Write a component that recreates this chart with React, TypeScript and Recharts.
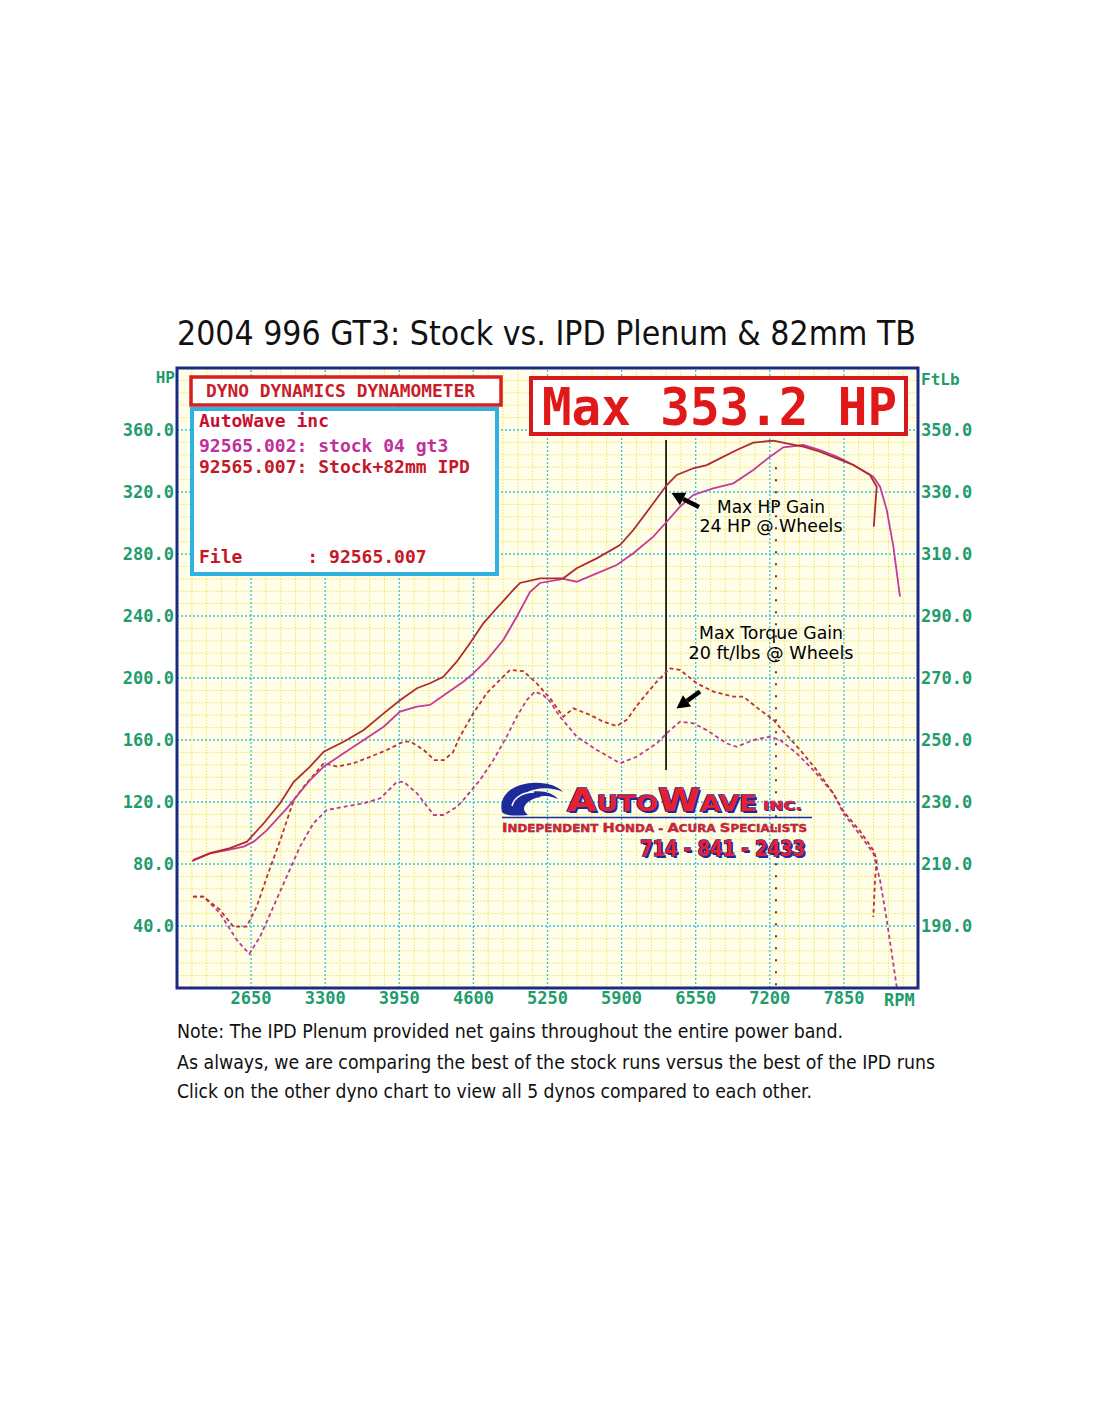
import React from 'react';
import { LineChart, Line, XAxis, YAxis, ReferenceLine, CartesianGrid } from 'recharts';

// ---------- axis ticks ----------
const rpmTicks = [2650, 3300, 3950, 4600, 5250, 5900, 6550, 7200, 7850];
const hpTicks = [40, 80, 120, 160, 200, 240, 280, 320, 360];
const tqTicks = [190, 210, 230, 250, 270, 290, 310, 330, 350];

// ---------- IPD (Stock+82mm) horsepower ----------
const ipdHpRpm = [2140, 2290, 2465, 2614, 2761, 2904, 3024, 3167, 3287, 3462, 3638, 3813, 3959, 4105, 4219, 4336, 4454, 4570, 4687, 4804, 4950, 5009, 5184, 5389, 5506, 5682, 5886, 6003, 6178, 6296, 6384, 6529, 6647, 6763, 6910, 7055, 7231, 7348, 7494, 7640, 7787, 7933, 8079, 8138, 8129, 8112];
const ipdHp = [82.6, 87.0, 90.3, 94.4, 106.3, 119.2, 133.0, 142.8, 152.5, 158.9, 166.5, 177.2, 185.8, 193.4, 196.6, 200.8, 210.5, 222.4, 235.3, 245.0, 256.8, 261.3, 264.3, 264.3, 270.8, 277.2, 285.8, 295.5, 312.7, 324.5, 331.0, 335.3, 337.4, 341.7, 347.1, 351.8, 353.2, 351.4, 349.2, 346.0, 341.7, 337.4, 331.0, 323.4, 314.8, 297.6];

// ---------- stock horsepower ----------
const stockHpRpm = [2132, 2292, 2439, 2585, 2673, 2789, 2965, 3167, 3287, 3462, 3638, 3813, 3956, 4105, 4219, 4366, 4511, 4599, 4717, 4862, 4980, 5096, 5184, 5389, 5506, 5682, 5857, 6003, 6178, 6296, 6412, 6529, 6704, 6880, 7055, 7202, 7318, 7494, 7640, 7787, 7933, 8108, 8167, 8226, 8284, 8342];
const stockHp = [81.9, 86.9, 89.0, 91.2, 94.4, 101.9, 116.1, 134.2, 142.8, 151.4, 160.0, 168.6, 178.3, 181.5, 182.6, 190.1, 197.6, 203.0, 211.6, 224.5, 239.5, 255.5, 261.3, 263.9, 262.1, 267.5, 272.9, 280.5, 291.2, 300.8, 310.5, 318.1, 322.4, 325.6, 334.2, 342.8, 348.8, 350.3, 347.1, 342.8, 337.4, 329.9, 323.4, 308.4, 284.7, 252.5];

// ---------- IPD torque (ft-lb) ----------
const ipdTqRpm = [2140, 2231, 2377, 2494, 2611, 2699, 2789, 2906, 3024, 3111, 3287, 3404, 3550, 3696, 3842, 3989, 4047, 4164, 4260, 4340, 4420, 4482, 4599, 4717, 4833, 4921, 5038, 5155, 5272, 5389, 5476, 5623, 5740, 5857, 5945, 6061, 6208, 6325, 6412, 6559, 6705, 6880, 6968, 7114, 7231, 7348, 7465, 7611, 7757, 7845, 7991, 8108, 8138, 8123, 8108];
const ipdTq = [199.5, 199.5, 195.2, 189.8, 189.8, 196.2, 205.9, 217.7, 230.6, 234.9, 242.5, 241.4, 242.5, 244.6, 246.8, 249.5, 249.5, 246.8, 243.5, 243.5, 246.0, 251.1, 258.6, 265.1, 269.4, 272.6, 272.2, 268.3, 263.5, 257.5, 260.2, 258.1, 255.9, 254.5, 256.5, 262.4, 268.8, 273.1, 272.6, 268.3, 265.6, 264.0, 264.0, 259.7, 256.5, 251.6, 246.8, 240.3, 232.8, 227.1, 220.6, 214.5, 211.3, 204.8, 192.9];

// ---------- stock torque (ft-lb) ----------
const stockTqRpm = [2140, 2231, 2377, 2524, 2634, 2728, 2845, 2962, 3079, 3196, 3313, 3461, 3638, 3784, 3930, 3989, 4105, 4252, 4339, 4456, 4511, 4658, 4775, 4892, 4980, 5068, 5140, 5213, 5272, 5360, 5506, 5682, 5886, 6032, 6208, 6325, 6412, 6529, 6646, 6822, 6910, 7055, 7202, 7290, 7436, 7582, 7757, 7845, 7991, 8108, 8167, 8226, 8270, 8313];
const stockTq = [199.5, 199.5, 194.1, 185.5, 181.0, 186.5, 196.2, 205.9, 215.6, 223.1, 227.4, 228.4, 229.6, 231.2, 236.5, 236.5, 232.8, 225.8, 225.8, 228.5, 230.6, 237.1, 243.5, 251.1, 257.5, 262.9, 265.6, 264.5, 262.4, 257.5, 251.1, 246.8, 242.5, 244.6, 248.9, 253.2, 255.9, 255.4, 253.2, 248.9, 247.8, 250.0, 251.1, 250.0, 245.7, 240.3, 232.8, 226.4, 219.4, 213.5, 204.8, 191.9, 181.2, 170.4];

const toPoints = (rpms: number[], vals: number[]) => rpms.map((r, i) => ({ rpm: r, value: vals[i] }));
const ipdHpData = toPoints(ipdHpRpm, ipdHp);
const stockHpData = toPoints(stockHpRpm, stockHp);
const ipdTqData = toPoints(ipdTqRpm, ipdTq);
const stockTqData = toPoints(stockTqRpm, stockTq);

// minor grid lines (5 subdivisions per major division)
const minorRpm: number[] = [];
for (let v = 2130; v < 8500; v += 130) if (!rpmTicks.includes(v)) minorRpm.push(v);
const minorHp: number[] = [];
for (let v = 8; v < 400; v += 8) if (v % 40 !== 0) minorHp.push(v);

const GREEN = '#1f9c6c';
const MONO = '"DejaVu Sans Mono", "Liberation Mono", monospace';
const SANS = '"DejaVu Sans", Verdana, sans-serif';

const tickStyle = { fill: GREEN, fontFamily: MONO, fontWeight: 700, fontSize: 17 };

function Arrow({ tail, tip }: { tail: [number, number]; tip: [number, number] }) {
  const dx = tip[0] - tail[0];
  const dy = tip[1] - tail[1];
  const len = Math.sqrt(dx * dx + dy * dy);
  const ux = dx / len, uy = dy / len;
  const hl = 13, hw = 7;
  const bx = tip[0] - ux * hl, by = tip[1] - uy * hl;
  const nx = -uy, ny = ux;
  const pts = `${tip[0]},${tip[1]} ${bx + nx * hw},${by + ny * hw} ${bx - nx * hw},${by - ny * hw}`;
  return (
    <g>
      <line x1={tail[0]} y1={tail[1]} x2={bx} y2={by} stroke="#000" strokeWidth={4.5} />
      <polygon points={pts} fill="#000" />
    </g>
  );
}

function Overlay() {
  return (
    <svg width={1100} height={1422} style={{ position: 'absolute', left: 0, top: 0, pointerEvents: 'none' }}>
      {/* plot border */}
      <rect x={177} y={368} width={741} height={620} fill="none" stroke="#1b2a86" strokeWidth={3} />

      {/* title */}
      <text x={177} y={345} fontFamily={SANS} fontSize={33} fill="#111" textLength={739} lengthAdjust="spacingAndGlyphs">
        2004 996 GT3: Stock vs. IPD Plenum &amp; 82mm TB
      </text>

      {/* axis titles */}
      <text x={175} y={383} textAnchor="end" fontFamily={MONO} fontWeight={700} fontSize={16} fill={GREEN}>HP</text>
      <text x={921} y={385} fontFamily={MONO} fontWeight={700} fontSize={16} fill={GREEN}>FtLb</text>
      <text x={884} y={1006} fontFamily={MONO} fontWeight={700} fontSize={17} fill={GREEN}>RPM</text>

      {/* dyno header box */}
      <rect x={191} y={377} width={310} height={28} fill="#fff" stroke="#d42020" strokeWidth={3.5} />
      <text x={206} y={397} fontFamily={MONO} fontWeight={700} fontSize={17} fill="#c81e2a" textLength={269} lengthAdjust="spacingAndGlyphs">
        DYNO DYNAMICS DYNAMOMETER
      </text>

      {/* run legend box */}
      <rect x={192} y={409} width={305} height={165} fill="#fff" stroke="#2fb2e2" strokeWidth={4} />
      <text x={199} y={427} fontFamily={MONO} fontWeight={700} fontSize={18} fill="#c8102e">AutoWave inc</text>
      <text x={199} y={452} fontFamily={MONO} fontWeight={700} fontSize={18} fill="#c0309a">92565.002: stock 04 gt3</text>
      <text x={199} y={473} fontFamily={MONO} fontWeight={700} fontSize={18} fill="#c41828">92565.007: Stock+82mm IPD</text>
      <text x={199} y={563} fontFamily={MONO} fontWeight={700} fontSize={18} fill="#c41828" xmlSpace="preserve">File      : 92565.007</text>

      {/* max box */}
      <rect x={531} y={378} width={375} height={56} fill="#fff" stroke="#d41a1a" strokeWidth={4} />
      <text x={542} y={425} fontFamily={MONO} fontWeight={700} fontSize={51} fill="#e01818" textLength={355} lengthAdjust="spacingAndGlyphs">
        Max 353.2 HP
      </text>

      {/* annotations */}
      <text x={771} y={513} textAnchor="middle" fontFamily={SANS} fontSize={18} fill="#000" textLength={108} lengthAdjust="spacingAndGlyphs">Max HP Gain</text>
      <text x={771} y={532} textAnchor="middle" fontFamily={SANS} fontSize={18} fill="#000" textLength={143} lengthAdjust="spacingAndGlyphs">24 HP @ Wheels</text>
      <text x={771} y={639} textAnchor="middle" fontFamily={SANS} fontSize={18} fill="#000" textLength={144} lengthAdjust="spacingAndGlyphs">Max Torque Gain</text>
      <text x={771} y={659} textAnchor="middle" fontFamily={SANS} fontSize={18} fill="#000" textLength={165} lengthAdjust="spacingAndGlyphs">20 ft/lbs @ Wheels</text>
      <Arrow tail={[699, 507]} tip={[671.5, 493]} />
      <Arrow tail={[700, 691.5]} tip={[676.5, 708.5]} />

      {/* AutoWave logo */}
      <g>
        <path d="M502,812 C498,796 512,784 532,783 C546,782 558,786 563,792 C552,787 536,787 526,793 C540,789 552,792 558,799 C548,795 534,796 527,803 C522,808 524,812 528,815 C516,816 505,816 502,812 Z" fill="#1c2a9c" />
        <path d="M512,806 C514,797 524,792 534,792" fill="none" stroke="#fff" strokeWidth={1.5} />
        <path d="M540,797 C548,796 554,798 557,801" fill="none" stroke="#fff" strokeWidth={1.2} />
        <text x={569} y={813} fontFamily={SANS} fontWeight={900} fill="#1c2a9c" textLength={190} lengthAdjust="spacingAndGlyphs">
          <tspan fontSize={32}>A</tspan><tspan fontSize={22}>UTO</tspan><tspan fontSize={32}>W</tspan><tspan fontSize={22}>AVE</tspan>
        </text>
        <text x={567} y={811} fontFamily={SANS} fontWeight={900} fill="#e8202e" stroke="#1c2a9c" strokeWidth={1.4} paintOrder="stroke" textLength={190} lengthAdjust="spacingAndGlyphs">
          <tspan fontSize={32}>A</tspan><tspan fontSize={22}>UTO</tspan><tspan fontSize={32}>W</tspan><tspan fontSize={22}>AVE</tspan>
        </text>
        <text x={764} y={811} fontFamily={SANS} fontWeight={900} fontSize={13} fill="#1c2a9c" textLength={39} lengthAdjust="spacingAndGlyphs">INC.</text>
        <text x={763} y={810} fontFamily={SANS} fontWeight={900} fontSize={13} fill="#e8202e" stroke="#1c2a9c" strokeWidth={0.6} paintOrder="stroke" textLength={39} lengthAdjust="spacingAndGlyphs">INC.</text>
        <line x1={502} y1={817.5} x2={812} y2={817.5} stroke="#1c2a9c" strokeWidth={1.5} />
        <text x={502} y={832} fontFamily={SANS} fontWeight={900} fill="#d8202a" stroke="#1c2a9c" strokeWidth={0.4} paintOrder="stroke" textLength={305} lengthAdjust="spacingAndGlyphs">
          <tspan fontSize={13}>I</tspan><tspan fontSize={10.5}>NDEPENDENT </tspan><tspan fontSize={13}>H</tspan><tspan fontSize={10.5}>ONDA - </tspan><tspan fontSize={13}>A</tspan><tspan fontSize={10.5}>CURA </tspan><tspan fontSize={13}>S</tspan><tspan fontSize={10.5}>PECIALISTS</tspan>
        </text>
        <text x={642} y={858} fontFamily={SANS} fontWeight={900} fontSize={22} fill="#1c2a9c" textLength={165} lengthAdjust="spacingAndGlyphs">714 - 841 - 2433</text>
        <text x={640} y={856} fontFamily={SANS} fontWeight={900} fontSize={22} fill="#e8202e" stroke="#1c2a9c" strokeWidth={1.6} paintOrder="stroke" textLength={165} lengthAdjust="spacingAndGlyphs">714 - 841 - 2433</text>
      </g>

      {/* notes */}
      <text x={177} y={1038} fontFamily={SANS} fontSize={19.5} fill="#111" textLength={666} lengthAdjust="spacingAndGlyphs">
        Note: The IPD Plenum provided net gains throughout the entire power band.
      </text>
      <text x={177} y={1069} fontFamily={SANS} fontSize={19.5} fill="#111" textLength={758} lengthAdjust="spacingAndGlyphs">
        As always, we are comparing the best of the stock runs versus the best of the IPD runs
      </text>
      <text x={177} y={1098} fontFamily={SANS} fontSize={19.5} fill="#111" textLength={635} lengthAdjust="spacingAndGlyphs">
        Click on the other dyno chart to view all 5 dynos compared to each other.
      </text>
    </svg>
  );
}

export default function App() {
  return (
    <div style={{ position: 'absolute', left: 0, top: 0, width: 1100, height: 1422, background: '#fff' }}>
      <LineChart width={1100} height={1422} margin={{ top: 368, right: 0, bottom: 404, left: 0 }}>
        <CartesianGrid yAxisId="hp" fill="#fffee9" horizontal={false} vertical={false} stroke="none" />
        <XAxis
          dataKey="rpm"
          type="number"
          domain={[2000, 8500]}
          ticks={rpmTicks}
          allowDataOverflow
          axisLine={false}
          tickLine={false}
          tickSize={0}
          tickMargin={4}
          height={30}
          tick={tickStyle}
        />
        <YAxis
          yAxisId="hp"
          orientation="left"
          domain={[0, 400]}
          ticks={hpTicks}
          allowDataOverflow
          width={177}
          axisLine={false}
          tickLine={false}
          tickSize={0}
          tickMargin={3}
          tick={tickStyle}
          tickFormatter={(v: number) => v.toFixed(1)}
        />
        <YAxis
          yAxisId="tq"
          orientation="right"
          domain={[170, 370]}
          ticks={tqTicks}
          allowDataOverflow
          width={182}
          axisLine={false}
          tickLine={false}
          tickSize={0}
          tickMargin={3}
          tick={tickStyle}
          tickFormatter={(v: number) => v.toFixed(1)}
        />
        {minorRpm.map((v) => (
          <ReferenceLine key={`mx${v}`} x={v} yAxisId="hp" stroke="#f2e35e" strokeWidth={1} strokeDasharray="1.5 1.5" />
        ))}
        {minorHp.map((v) => (
          <ReferenceLine key={`my${v}`} y={v} yAxisId="hp" stroke="#f2e35e" strokeWidth={1} strokeDasharray="1.5 1.5" />
        ))}
        {rpmTicks.map((v) => (
          <ReferenceLine key={`Mx${v}`} x={v} yAxisId="hp" stroke="#3fbfd8" strokeWidth={1.3} strokeDasharray="2 2" />
        ))}
        {hpTicks.map((v) => (
          <ReferenceLine key={`My${v}`} y={v} yAxisId="hp" stroke="#3fbfd8" strokeWidth={1.3} strokeDasharray="2 2" />
        ))}
        <ReferenceLine
          yAxisId="hp"
          segment={[{ x: 7254, y: 336 }, { x: 7254, y: 1 }]}
          stroke="#7a2a30"
          strokeWidth={2}
          strokeDasharray="2 10"
        />
        <ReferenceLine
          yAxisId="hp"
          segment={[{ x: 6290, y: 353.5 }, { x: 6290, y: 140.6 }]}
          stroke="#000"
          strokeWidth={1.6}
        />
        <Line data={stockTqData} dataKey="value" yAxisId="tq" type="linear" stroke="#b83c96" strokeWidth={1.8} strokeDasharray="4 3" dot={false} isAnimationActive={false} />
        <Line data={ipdTqData} dataKey="value" yAxisId="tq" type="linear" stroke="#c0302c" strokeWidth={1.8} strokeDasharray="4 3" dot={false} isAnimationActive={false} />
        <Line data={stockHpData} dataKey="value" yAxisId="hp" type="linear" stroke="#c43a9e" strokeWidth={1.8} dot={false} isAnimationActive={false} />
        <Line data={ipdHpData} dataKey="value" yAxisId="hp" type="linear" stroke="#b02a30" strokeWidth={1.8} dot={false} isAnimationActive={false} />
      </LineChart>
      <Overlay />
    </div>
  );
}
